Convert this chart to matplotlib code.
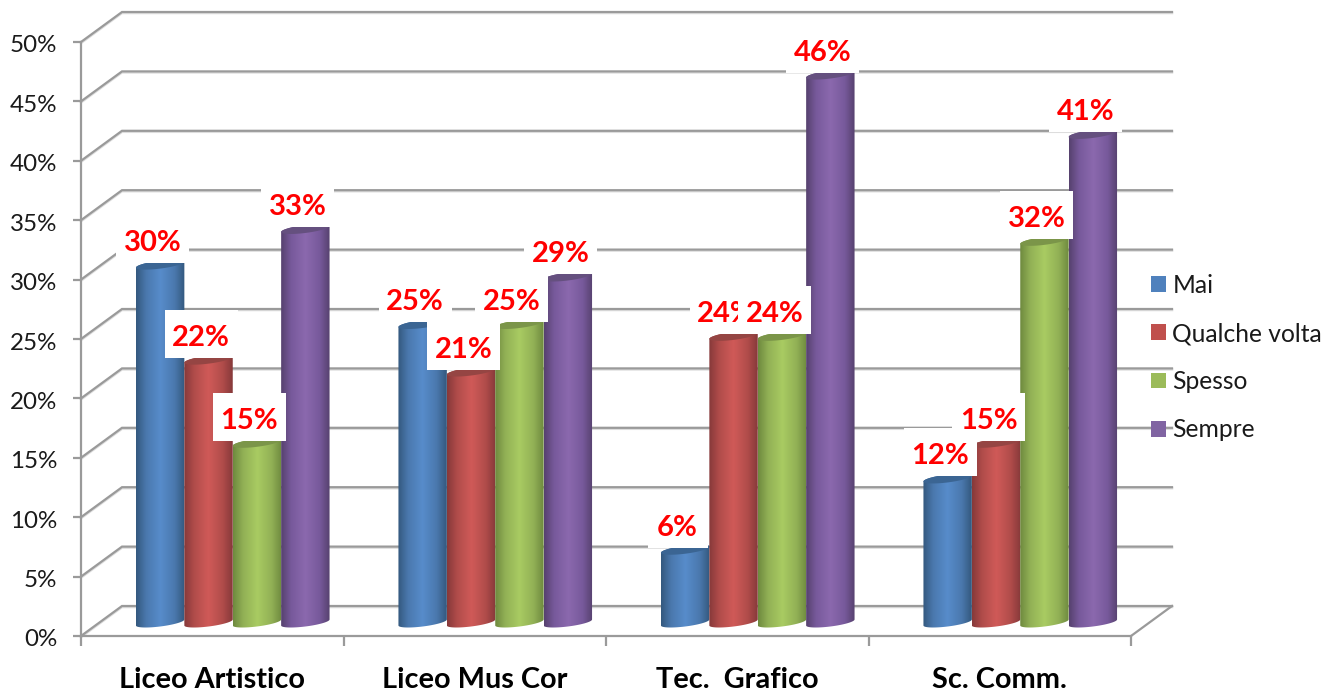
import numpy as np
import matplotlib
matplotlib.use('Agg')
import matplotlib.pyplot as plt
from matplotlib.patches import Patch, PathPatch, Polygon, Rectangle
from matplotlib.path import Path
from matplotlib.colors import LinearSegmentedColormap
from matplotlib.transforms import ScaledTranslation

# data
categories = ['Liceo Artistico', 'Liceo Mus Cor', 'Tec.  Grafico', 'Sc. Comm.']
series_names = ['Mai', 'Qualche volta', 'Spesso', 'Sempre']
mai = [30, 25, 6, 12]
qualche_volta = [22, 21, 24, 15]
spesso = [15, 25, 24, 32]
sempre = [33, 29, 46, 41]
y_ticks = [0, 5, 10, 15, 20, 25, 30, 35, 40, 45, 50]

series = [mai, qualche_volta, spesso, sempre]
legend_colors = ['#4f81bd', '#c0504d', '#9bbb59', '#8064a2']
top_colors = ['#3b6593', '#954543', '#7b9549', '#65507f']
edge_colors = ['#34597f', '#87393a', '#6f8a3f', '#57426f']
mid_colors = ['#4a78ad', '#b04c4a', '#91b055', '#77599b']
light_colors = ['#578ccb', '#d05a58', '#a9cb62', '#8b69ae']

plt.rcParams['font.family'] = ['Lato', 'DejaVu Sans']
GRID = '#9a9a9a'

fig = plt.figure(figsize=(13.43, 6.93), dpi=100)
ax = fig.add_axes([81 / 1343, 1 - 636 / 693, 1050 / 1343, 594 / 693])

# pixel sizes in data units
px_x = 4 / 1050
px_y = 50 / 594
depth_x = 41 * px_x
depth_y = 30 * px_y

# walls and floor, with a soft shadow under each line
for t in y_ticks:
    ax.plot([0, depth_x, 4 + depth_x], [t - px_y, t + depth_y - px_y, t + depth_y - px_y], color='#dddddd',
            lw=1.8, clip_on=False, zorder=0.9, solid_joinstyle='miter')
    ax.plot([0, depth_x, 4 + depth_x], [t, t + depth_y, t + depth_y], color=GRID, lw=1.6,
            clip_on=False, zorder=1, solid_joinstyle='miter')
ax.plot([4, 4 + depth_x], [0, depth_y], color=GRID, lw=1.6, clip_on=False, zorder=1)

bar_w = 48.4 * px_x
a = bar_w / 2
b = 4 * px_y
tilt = 3 * px_y
theta = np.linspace(0, np.pi, 40)


def arc_up(cx, cy):
    # right to left over the back of the ellipse
    return cx + a * np.cos(theta), cy + b * np.sin(theta) + tilt * np.cos(theta)


def arc_down(cx, cy):
    # left to right along the front of the ellipse
    return cx - a * np.cos(theta), cy - b * np.sin(theta) - tilt * np.cos(theta)


z = 2
for g in range(4):
    for s in range(4):
        v = series[s][g]
        cx = g + 0.5 + depth_x / 2 + (s - 1.5) * bar_w
        base = depth_y / 2
        top = base + v

        bx, by = arc_down(cx, base - 1.5 * px_y)
        tx, ty = arc_up(cx, top)
        outline = np.column_stack([np.r_[bx, tx], np.r_[by, ty]])
        body = PathPatch(Path(outline, closed=False), fc='none', ec='none', transform=ax.transData)
        ax.add_patch(body)

        cmap = LinearSegmentedColormap.from_list(
            'cyl', [(0, edge_colors[s]), (0.2, mid_colors[s]), (0.5, light_colors[s]),
                    (0.8, mid_colors[s]), (1, edge_colors[s])])
        im = ax.imshow(np.linspace(0, 1, 64)[None, :], cmap=cmap, aspect='auto', zorder=z,
                       extent=[cx - a, cx + a, base - 3 * b, top + 2 * b], clip_on=True)
        im.set_clip_path(body)

        # dark cap on top
        ux, uy = arc_up(cx, top)
        dx, dy = arc_down(cx, top)
        ax.add_patch(Polygon(np.column_stack([np.r_[dx, ux], np.r_[dy, uy]]), closed=True,
                             fc=top_colors[s], ec='none', zorder=z + 0.5, clip_on=False))
        z += 1

# data labels with white boxes, each one covers what came before
for g in range(4):
    for s in range(4):
        v = series[s][g]
        cx = g + 0.5 + depth_x / 2 + (s - 1.5) * bar_w - 7.5 * px_x
        bottom = depth_y / 2 + v + 2 * px_y
        box_w = 73 if v >= 10 else 60
        ax.add_patch(Rectangle((cx - box_w / 2 * px_x, bottom), box_w * px_x, 48 * px_y, fc='white', ec='none',
                               zorder=z, clip_on=False))
        ax.text(cx, bottom + 20 * px_y, f'{v}%', color='#ff0000', fontsize=21, fontweight='bold',
                ha='center', va='center', zorder=z + 0.5, clip_on=False)
        z += 1

ax.set_xlim(0, 4)
ax.set_ylim(0, 50)
ax.patch.set_visible(False)
for side in ['top', 'right']:
    ax.spines[side].set_visible(False)
for side in ['left', 'bottom']:
    ax.spines[side].set_color(GRID)
    ax.spines[side].set_linewidth(1.6)

ax.set_yticks(y_ticks)
ax.set_yticklabels([f'{t}%' for t in y_ticks], fontsize=17.4, color='#1a1a1a')
ax.tick_params(axis='y', length=6, width=1.6, color=GRID, pad=11)
# tick labels sit a bit under their ticks
shift = ScaledTranslation(0, -2 / 100, fig.dpi_scale_trans)
for lab in ax.get_yticklabels():
    lab.set_transform(lab.get_transform() + shift)
ax.set_xticks(range(5))
ax.set_xticklabels([])
ax.tick_params(axis='x', length=7, width=1.6, color=GRID)
for i, name in enumerate(categories):
    ax.annotate(name, (i + 0.5, 0), xytext=(0, -44), textcoords='offset pixels', ha='center', va='center',
                fontsize=20.8, fontweight='bold', color='black', annotation_clip=False)

handles = [Patch(fc=c, ec='none') for c in legend_colors]
leg = fig.legend(handles, series_names, loc='upper left', bbox_to_anchor=(1151 / 1343, 1 - 274 / 693),
                 frameon=False, fontsize=17.7, handlelength=0.62, handleheight=0.62, handletextpad=0.25,
                 labelspacing=1.02, borderpad=0, borderaxespad=0)
leg.set_zorder(100)
for txt in leg.get_texts():
    txt.set_color('#1a1a1a')

fig.savefig('out.png', dpi=100)
